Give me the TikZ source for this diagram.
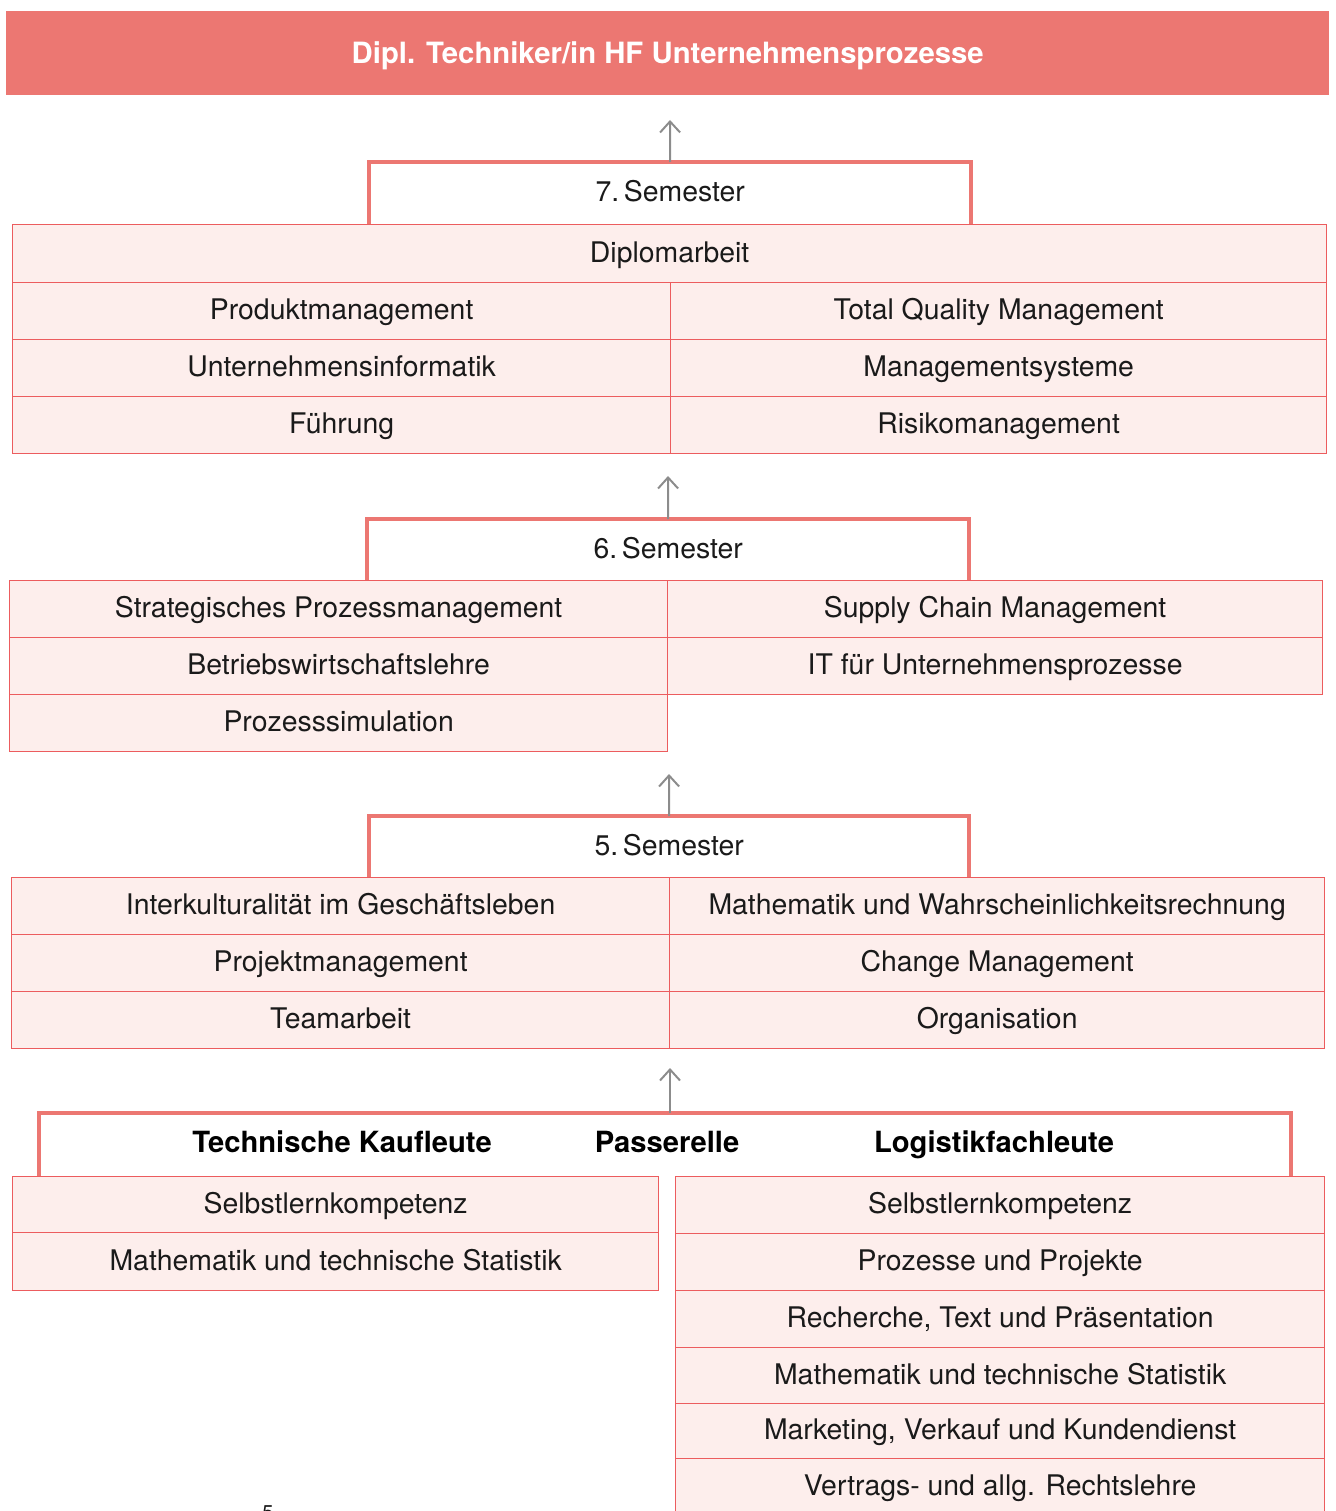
\documentclass[tikz,border=0pt]{standalone}
\usepackage{fontspec}
\setmainfont{TeX Gyre Heros}
\usetikzlibrary{arrows.meta}
\definecolor{hdr}{RGB}{236,119,114}
\definecolor{cellfill}{RGB}{253,238,236}
\definecolor{cellline}{RGB}{236,92,94}
\definecolor{arrgray}{RGB}{140,140,140}
\definecolor{ink}{RGB}{26,26,26}
\begin{document}
\begin{tikzpicture}[x=1pt,y=-1pt,
  txt/.style={text height=17pt, text depth=0pt, font=\fontsize{28.4}{32}\selectfont},
  cell/.style={draw=cellline, line width=1.3pt, fill=cellfill, inner sep=0pt,
    minimum height=57pt, anchor=north west, text=ink, txt},
  sembox/.style={fill=white, inner sep=0pt, anchor=north west, text=ink, txt},
  bracket/.style={draw=hdr, line width=4pt},
  arr/.style={draw=arrgray, line width=2pt, -{Straight Barb[length=11pt,width=20pt,line width=2pt]}},
  boldlbl/.style={inner sep=0pt, text=black, text height=19pt, text depth=0pt,
    font=\fontsize{29.2}{34}\selectfont\bfseries},
]
\useasboundingbox (0,0) rectangle (1335,1511);

% header
\node[fill=hdr, inner sep=0pt, anchor=north west, minimum width=1323pt, minimum height=84pt,
  text=white, text height=21pt, text depth=0pt,
  font=\fontsize{29.3}{34}\selectfont\bfseries] (title) at (6,11)
  {Dipl. Techniker/in HF Unternehmensprozesse};

% ---------- 7. Semester
\node[sembox, minimum width=602pt, minimum height=62pt] (s7) at (369,162) {7.\,Semester};
\draw[bracket] (s7.south west) -- (s7.north west) -- (s7.north east) -- (s7.south east);
\coordinate (a7) at (670,120);
\draw[arr] (s7.north) -- (a7);

\node[cell, minimum width=1314pt, minimum height=58pt] (dip) at (12,224) {Diplomarbeit};
\node[cell, minimum width=658pt] (pm) at (12,282) {Produktmanagement};
\node[cell, minimum width=656pt] (tqm) at (670,282) {Total Quality Management};
\node[cell, minimum width=658pt] (ui) at (12,339) {Unternehmensinformatik};
\node[cell, minimum width=656pt] (ms) at (670,339) {Managementsysteme};
\node[cell, minimum width=658pt] (fu) at (12,396) {Führung};
\node[cell, minimum width=656pt] (rm) at (670,396) {Risikomanagement};

% ---------- 6. Semester
\node[sembox, minimum width=602pt, minimum height=61pt] (s6) at (367,519) {6.\,Semester};
\draw[bracket] (s6.south west) -- (s6.north west) -- (s6.north east) -- (s6.south east);
\coordinate (a6) at (668,476);
\draw[arr] (s6.north) -- (a6);

\node[cell, minimum width=658pt] (spm) at (9,580) {Strategisches Prozessmanagement};
\node[cell, minimum width=655pt] (scm) at (667,580) {Supply Chain Management};
\node[cell, minimum width=658pt] (bwl) at (9,637) {Betriebswirtschaftslehre};
\node[cell, minimum width=655pt] (itu) at (667,637) {IT für Unternehmensprozesse};
\node[cell, minimum width=658pt] (psim) at (9,694) {Prozesssimulation};

% ---------- 5. Semester
\node[sembox, minimum width=600pt, minimum height=61pt] (s5) at (369,816) {5.\,Semester};
\draw[bracket] (s5.south west) -- (s5.north west) -- (s5.north east) -- (s5.south east);
\coordinate (a5) at (669,774);
\draw[arr] (s5.north) -- (a5);

\node[cell, minimum width=658pt] (ik) at (11,877) {Interkulturalität im Geschäftsleben};
\node[cell, minimum width=655pt] (mw) at (669,877) {Mathematik und Wahrscheinlichkeitsrechnung};
\node[cell, minimum width=658pt] (prm) at (11,934) {Projektmanagement};
\node[cell, minimum width=655pt] (cm) at (669,934) {Change Management};
\node[cell, minimum width=658pt] (ta) at (11,991) {Teamarbeit};
\node[cell, minimum width=655pt] (org) at (669,991) {Organisation};

% ---------- Passerelle
\node[sembox, minimum width=1252pt, minimum height=63pt] (sp) at (39,1113) {};
\draw[bracket] (sp.south west) -- (sp.north west) -- (sp.north east) -- (sp.south east);
\coordinate (a4) at (670,1068);
\draw[arr] (sp.north -| a4) -- (a4);
\node[boldlbl] (tk) at (342,1143) {Technische Kaufleute};
\node[boldlbl] (pa) at (667,1143) {Passerelle};
\node[boldlbl] (lf) at (994,1143) {Logistikfachleute};

\node[cell, minimum width=646pt, minimum height=56pt] (ls1) at (12,1176) {Selbstlernkompetenz};
\node[cell, minimum width=646pt, minimum height=58pt] (ls2) at (12,1232) {Mathematik und technische Statistik};

\node[cell, minimum width=649pt] (r1) at (675,1176) {Selbstlernkompetenz};
\node[cell, minimum width=649pt] (r2) at (675,1233) {Prozesse und Projekte};
\node[cell, minimum width=649pt] (r3) at (675,1290) {Recherche, Text und Präsentation};
\node[cell, minimum width=649pt, minimum height=56pt] (r4) at (675,1347) {Mathematik und technische Statistik};
\node[cell, minimum width=649pt, minimum height=55pt] (r5) at (675,1403) {Marketing, Verkauf und Kundendienst};
\node[cell, minimum width=649pt, minimum height=56pt] (r6) at (675,1458) {Vertrags- und allg. Rechtslehre};

% cut-off page number (cut off in the reference too)
\node[anchor=north, inner sep=0pt, text=ink, font=\fontsize{20}{24}\selectfont] (pg) at (268,1505) {5};
\end{tikzpicture}
\end{document}
